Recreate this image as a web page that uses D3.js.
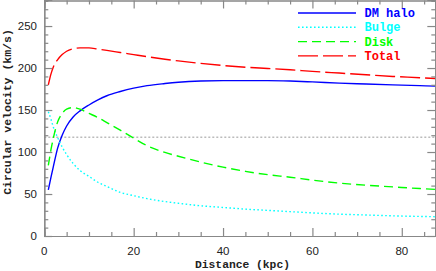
<!DOCTYPE html>
<html><head><meta charset="utf-8">
<script src="https://cdn.jsdelivr.net/npm/d3@7"></script>
<style>html,body{margin:0;padding:0;background:#fff;}svg{display:block;}</style>
</head><body>
<svg id="c" width="436" height="271"></svg>
<script>
const distance = [0.9, 1.5, 2, 3, 4, 5, 6.5, 8, 10, 12, 14, 17, 20, 23, 27, 30, 35, 40, 45, 50, 55, 60, 66, 72, 78, 84, 87.5];
const dmHalo  = [55, 70, 82, 105, 120, 131, 142, 149, 156, 162, 167, 172, 176, 179, 181.5, 183, 184.5, 185, 185, 185, 184.5, 183.5, 182, 181, 180, 179, 178.5];
const bulge   = [148, 139, 130, 117, 106, 97, 86, 78, 71, 64, 59, 52, 48, 44.5, 41, 39, 36, 34, 32, 30.5, 29, 27.5, 26, 25, 24, 23.3, 23];
const disk    = [84, 103, 116, 136, 146, 151, 153, 151, 146, 141, 135, 126, 116.5, 107.5, 99.5, 95, 88, 82, 77, 73, 70, 66.5, 63, 60.5, 58.5, 56.5, 55.5];
const total   = [180, 193, 201, 210, 216, 220, 223, 224, 224, 222.5, 221, 218.5, 216, 213.5, 210.5, 208.5, 205.5, 203, 201, 199.5, 198, 196, 194, 192, 190, 188.5, 187.5];
const refLine = 117.5;
const xTicks = [0, 20, 40, 60, 80];
const yTicks = [0, 50, 100, 150, 200, 250];
const seriesNames = ["DM halo", "Bulge", "Disk", "Total"];
const seriesColors = ["#0000ff", "#00ffff", "#00ff00", "#ff0000"];
const seriesDash = [null, "1.6,2.4", "9,5", "20,5"];
const seriesData = [dmHalo, bulge, disk, total];

const svg = d3.select("#c");
const L = 44.3, R = 435.3, T = 0, B = 236;
const x = d3.scaleLinear().domain([0, 87.5]).range([L, R]);
const y = d3.scaleLinear().domain([0, 281]).range([B, T]);

svg.append("defs").append("clipPath").attr("id","clip")
  .append("rect").attr("x",L).attr("y",T).attr("width",R-L).attr("height",B-T);

const g = svg.append("g").attr("clip-path","url(#clip)");
g.append("line").attr("x1",L).attr("x2",R).attr("y1",y(refLine)).attr("y2",y(refLine))
  .attr("stroke","#bbbbbb").attr("stroke-width",1.5).attr("stroke-dasharray","2,2");

const line = d3.line().x((d,i)=>x(distance[i])).y(d=>y(d)).curve(d3.curveMonotoneX);
seriesData.forEach((s,k)=>{
  g.append("path").attr("d", line(s)).attr("fill","none")
    .attr("stroke", seriesColors[k]).attr("stroke-width",1.4)
    .attr("stroke-dasharray", seriesDash[k]);
});

const axCol = "#888888";
const minorX = d3.range(0, 88, 5).filter(v=>!xTicks.includes(v));
const minorY = d3.range(0, 281, 10).filter(v=>!yTicks.includes(v));
function addAxis(axisFn, scale, transform, major, minor){
  const ga = svg.append("g").attr("transform", transform)
    .call(axisFn(scale).tickValues(major).tickSize(8).tickFormat(""));
  const gm = svg.append("g").attr("transform", transform)
    .call(axisFn(scale).tickValues(minor).tickSize(4).tickFormat(""));
  [ga, gm].forEach(a=>{
    a.select(".domain").attr("stroke", axCol).attr("stroke-width",1.2);
    a.selectAll(".tick line").attr("stroke", axCol).attr("stroke-width",1.2);
  });
  return ga;
}
addAxis(d3.axisTop, x, `translate(0,${B})`, xTicks, minorX);
svg.append("g").selectAll("text").data(xTicks).join("text")
  .attr("x", d=>x(d)).attr("y", 254.5).attr("text-anchor","middle")
  .attr("fill","#222").style("font-family","Liberation Sans, Arial, sans-serif").style("font-size","11.5px")
  .text(d=>d);
addAxis(d3.axisBottom, x, `translate(0,${T+0.5})`, xTicks, minorX);
addAxis(d3.axisRight, y, `translate(${L},0)`, yTicks, minorY);
svg.append("g").selectAll("text").data(yTicks).join("text")
  .attr("x", 37).attr("y", d=>y(d)+4).attr("text-anchor","end")
  .attr("fill","#222").style("font-family","Liberation Sans, Arial, sans-serif").style("font-size","11.5px")
  .text(d=>d);
addAxis(d3.axisLeft, y, `translate(${R},0)`, yTicks, minorY);

svg.append("text").attr("x", 242.5).attr("y", 268).attr("text-anchor","middle")
  .attr("fill","#222").style("font-family","Liberation Mono, Courier New, monospace")
  .style("font-weight","bold").style("font-size","11.3px").text("Distance (kpc)");
svg.append("text").attr("transform","translate(11,112) rotate(-90)").attr("text-anchor","middle")
  .attr("fill","#222").style("font-family","Liberation Mono, Courier New, monospace")
  .style("font-weight","bold").style("font-size","11.5px").text("Circular velocity (km/s)");

const lg = svg.append("g");
seriesNames.forEach((n,k)=>{
  const yy = 13 + k*14.3;
  lg.append("line").attr("x1",298).attr("x2",356).attr("y1",yy).attr("y2",yy)
    .attr("stroke", seriesColors[k]).attr("stroke-width",1.4).attr("stroke-dasharray", seriesDash[k]);
  lg.append("text").attr("x",364.5).attr("y",yy+4).attr("fill",seriesColors[k])
    .style("font-family","Liberation Mono, Courier New, monospace").style("font-weight","bold")
    .style("font-size","12px").text(n);
});
</script>
</body></html>
